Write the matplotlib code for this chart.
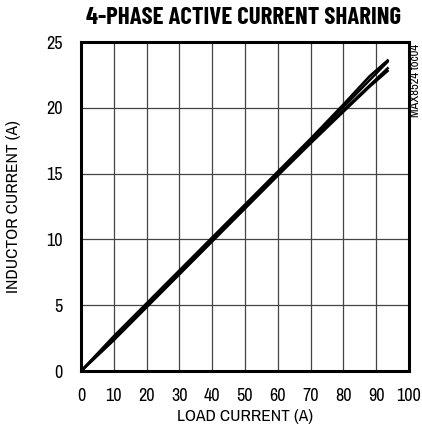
import matplotlib
matplotlib.use("Agg")
import matplotlib.pyplot as plt

# load current (A) and the four phase currents (A)
load = [0, 10, 20, 30, 40, 50, 60, 70, 80, 88, 93.5]
phase1 = [0, 2.65, 5.15, 7.65, 10.15, 12.65, 15.15, 17.65, 20.25, 22.4, 23.6]
phase2 = [0, 2.55, 5.05, 7.55, 10.05, 12.55, 15.05, 17.55, 20.05, 22.1, 23.5]
phase3 = [0, 2.4, 4.9, 7.4, 9.9, 12.4, 14.9, 17.4, 19.8, 21.7, 23.0]
phase4 = [0, 2.35, 4.85, 7.35, 9.85, 12.35, 14.85, 17.3, 19.7, 21.6, 22.8]

plt.rcParams['font.family'] = ['Archivo Narrow', 'DejaVu Sans']

fig = plt.figure(figsize=(4.22, 4.33), dpi=100)
ax = fig.add_axes([0.192, 0.143, 0.777, 0.760])

for ph in (phase1, phase2, phase3, phase4):
    ax.plot(load, ph, color='black', lw=1.8)

ax.set_xlim(0, 100)
ax.set_ylim(0, 25)
ax.set_xticks(range(0, 101, 10))
ax.set_yticks(range(0, 26, 5))
ax.grid(True, color='#444444', lw=0.9)
ax.tick_params(axis='x', length=0, labelsize=13, pad=12)
ax.tick_params(axis='y', length=0, labelsize=13, pad=13)
for s in ax.spines.values():
    s.set_linewidth(2.2)

ax.set_xlabel('LOAD CURRENT (A)', fontsize=12.5, labelpad=4)
ax.set_ylabel('INDUCTOR CURRENT (A)', fontsize=12.5, labelpad=18)
fig.text(0.576, 0.958, '4-PHASE ACTIVE CURRENT SHARING', fontsize=17.8,
         fontweight='bold', ha='center', va='center',
         family=['Barlow Condensed', 'Fira Sans Condensed', 'Archivo Narrow'])
fig.text(0.984, 0.815, 'MAX8524 toc04', fontsize=9, rotation=90,
         ha='center', va='center')

fig.savefig('out.png', dpi=100)
